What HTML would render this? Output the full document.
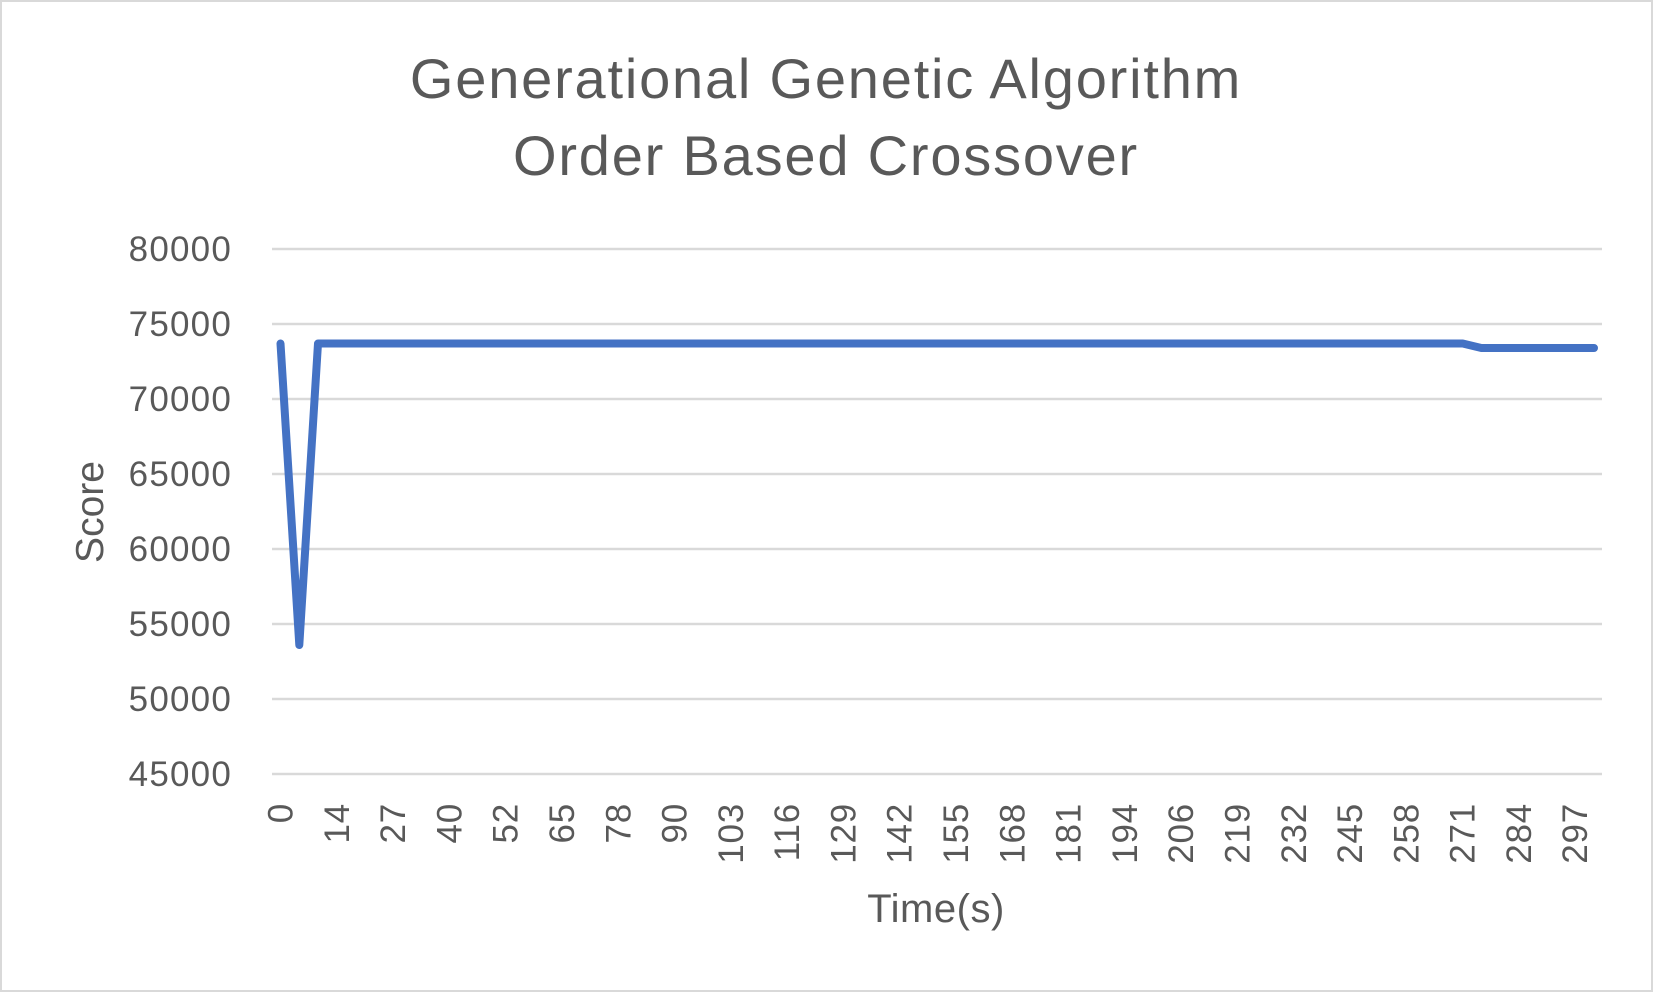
<!DOCTYPE html>
<html><head><meta charset="utf-8"><style>
html,body{margin:0;padding:0;background:#fff;}
svg{display:block;font-family:"Liberation Sans",sans-serif;}
</style></head><body>
<svg id="chart" width="1653" height="993" viewBox="0 0 1653 993">
<rect x="1" y="1" width="1651" height="990" fill="#fff" stroke="#d9d9d9" stroke-width="2"/>
<text x="826" y="98" text-anchor="middle" font-size="56" letter-spacing="1.8" fill="#595959">Generational Genetic Algorithm</text>
<text x="826" y="175" text-anchor="middle" font-size="56" letter-spacing="1.8" fill="#595959">Order Based Crossover</text>
<g id="grid"></g><g id="yticks"></g><g id="xticks"></g><g id="series"></g>
<text transform="translate(103,512) rotate(-90)" text-anchor="middle" font-size="39" fill="#595959">Score</text>
<text x="936" y="922" text-anchor="middle" font-size="40" letter-spacing="0.5" fill="#595959">Time(s)</text>
</svg>
<script>
const times = [0,4,9,14,18,22,27,31,35,40,44,48,52,56,61,65,69,74,78,82,86,90,94,99,103,107,112,116,120,125,129,133,138,142,146,151,155,159,164,168,172,177,181,185,190,194,198,202,206,210,215,219,223,228,232,236,241,245,249,254,258,262,267,271,275,280,284,288,293,297,301];
const scores = [73700,53600,73700,73700,73700,73700,73700,73700,73700,73700,73700,73700,73700,73700,73700,73700,73700,73700,73700,73700,73700,73700,73700,73700,73700,73700,73700,73700,73700,73700,73700,73700,73700,73700,73700,73700,73700,73700,73700,73700,73700,73700,73700,73700,73700,73700,73700,73700,73700,73700,73700,73700,73700,73700,73700,73700,73700,73700,73700,73700,73700,73700,73700,73700,73400,73400,73400,73400,73400,73400,73400];
const yTicks = [45000,50000,55000,60000,65000,70000,75000,80000];
const labelEvery = 3;
const NS='http://www.w3.org/2000/svg';
const yMin=45000,yMax=80000,pTop=249,pBot=774,pLeft=272,pRight=1602,x0=280.5,x1=1594;
function yS(v){return pBot-(v-yMin)/(yMax-yMin)*(pBot-pTop);}
function xS(i){return x0+i*(x1-x0)/(times.length-1);}
function mk(tag,attrs,parent){const e=document.createElementNS(NS,tag);for(const k in attrs)e.setAttribute(k,attrs[k]);parent.appendChild(e);return e;}
const grid=document.getElementById('grid'),yt=document.getElementById('yticks'),xt=document.getElementById('xticks'),ser=document.getElementById('series');
yTicks.forEach(v=>{
  const l=mk('line',{x1:pLeft,x2:pRight,y1:yS(v),y2:yS(v),stroke:'#d9d9d9','stroke-width':2.5},grid);
  
  
  const t=mk('text',{x:232,y:yS(v)+12,'text-anchor':'end','font-size':35,'letter-spacing':1.2,fill:'#595959'},yt);
  t.textContent=v;
  
  
});
times.forEach((tv,i)=>{
  if(i%labelEvery!==0)return;
  const x=xS(i)+12;
  const t=mk('text',{transform:'translate('+x+',803) rotate(-90)','text-anchor':'end','font-size':35,'letter-spacing':0.8,fill:'#595959'},xt);
  t.textContent=tv;
  
  
});
const pts=scores.map((v,i)=>xS(i).toFixed(1)+','+yS(v).toFixed(1)).join(' ');
const pl=mk('polyline',{points:pts,fill:'none',stroke:'#4472c4','stroke-width':8,'stroke-linejoin':'round','stroke-linecap':'round'},ser);


</script>
</body></html>
